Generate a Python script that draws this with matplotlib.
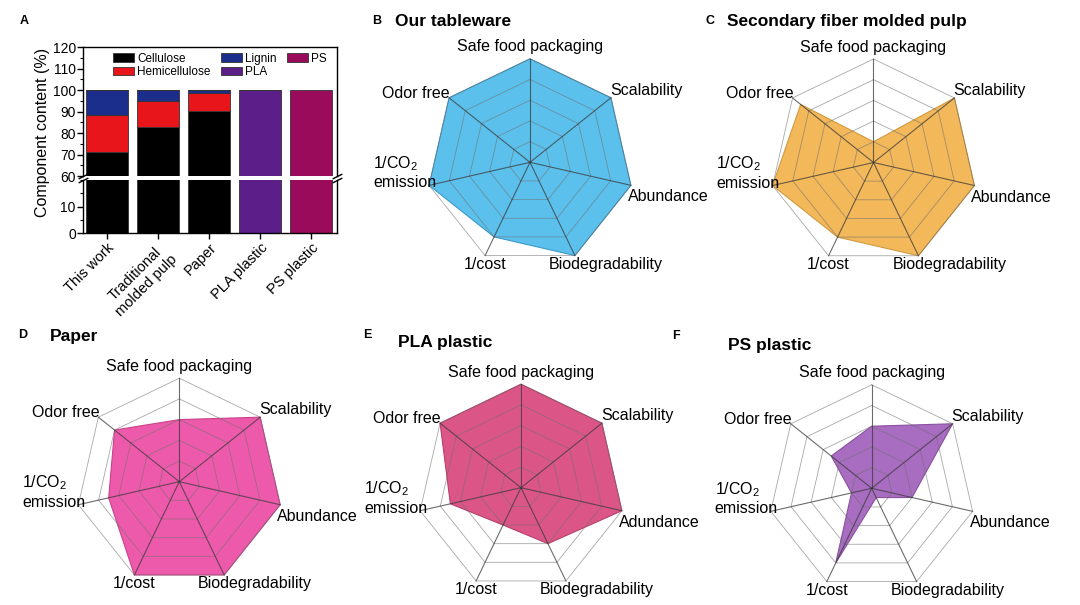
import numpy as np
import matplotlib.pyplot as plt
from matplotlib.ticker import MultipleLocator

plt.rcParams['font.family'] = ['Liberation Sans', 'DejaVu Sans']
plt.rcParams['mathtext.fontset'] = 'custom'
plt.rcParams['mathtext.rm'] = 'Liberation Sans'

W, H = 1080, 605

# ── Panel A: component content (%) ─────────────────────────────
samples = ["This work", "Traditional\nmolded pulp", "Paper", "PLA plastic", "PS plastic"]
cellulose = [71, 83, 90.5, 0, 0]
hemicellulose = [17.5, 12, 8, 0, 0]
lignin = [11.5, 5, 1.5, 0, 0]
pla = [0, 0, 0, 100, 0]
ps = [0, 0, 0, 0, 100]

# ── Radar panels (0-10 scale, clockwise from top) ──────────────
criteria = ["Safe food packaging", "Scalability", "Abundance", "Biodegradability",
            "1/cost", "1/CO$_2$\nemission", "Odor free"]
criteria_pla = ["Safe food packaging", "Scalability", "Adundance", "Biodegradability",
                "1/cost", "1/CO$_2$\nemission", "Odor free"]
tableware = [10, 10, 10, 10, 8, 10, 10]
secondary_pulp = [2, 10, 10, 10, 8, 10, 9]
paper = [6, 10, 10, 10, 10, 7, 8]
pla_plastic = [10, 10, 10, 6, 4, 7, 10]
ps_plastic = [6, 10, 4, 1, 8, 2, 5]
levels = [2, 4, 6, 8, 10]

fig = plt.figure(figsize=(10.8, 6.05), dpi=100)


def px_axes(x0, y0, x1, y1, **kw):
    return fig.add_axes([x0 / W, 1 - y1 / H, (x1 - x0) / W, (y1 - y0) / H], **kw)


# ───────────────────────────────────────────────────────────────
# Panel A (broken y axis)
# ───────────────────────────────────────────────────────────────
axU = px_axes(82.7, 47.3, 336.7, 176)
axL = px_axes(82.7, 180, 336.7, 233.3)
x = np.arange(len(samples))
stack = [(cellulose, 'black', 'Cellulose'),
         (hemicellulose, '#e8161b', 'Hemicellulose'),
         (lignin, '#1c2e8c', 'Lignin'),
         (pla, '#5c1e88', 'PLA'),
         (ps, '#9a0c5b', 'PS')]
for ax in (axU, axL):
    bottom = np.zeros(len(samples))
    for vals, col, lab in stack:
        vals = np.array(vals, dtype=float)
        ax.bar(x, vals, 0.82, bottom=bottom, color=col, edgecolor='#333333',
               linewidth=0.6, label=lab)
        bottom += vals
    ax.set_xlim(-0.48, 4.5)
    for s in ax.spines.values():
        s.set_linewidth(1.0)
    ax.tick_params(axis='y', which='major', direction='out', length=4, width=1, labelsize=10, pad=1)
    ax.tick_params(axis='y', which='minor', direction='out', length=2, width=0.8)
    ax.yaxis.set_minor_locator(MultipleLocator(5))

axU.set_ylim(60, 120)
axU.set_yticks(np.arange(60, 121, 10))
axU.spines['bottom'].set_visible(False)
axU.tick_params(axis='x', bottom=False, labelbottom=False)

axL.set_ylim(0, 20)
axL.set_yticks([0, 10])
axL.spines['top'].set_visible(False)
axL.set_xticks(x)
axL.set_xticklabels(samples, rotation=45, ha='right', va='top', rotation_mode='anchor',
                    multialignment='center', fontsize=10.5)
axL.tick_params(axis='x', direction='out', length=4, width=1, pad=1.5)

d = 0.5
brk = dict(marker=[(-1, -d), (1, d)], markersize=7, linestyle='none', color='k',
           mec='k', mew=1, clip_on=False)
axU.plot([0, 1], [0, 0], transform=axU.transAxes, **brk)
axL.plot([0, 1], [1, 1], transform=axL.transAxes, **brk)

axU.legend(ncol=3, loc='upper center', bbox_to_anchor=(0.54, 1.0), frameon=False,
           fontsize=8.5, handlelength=1.8, handleheight=0.7, handletextpad=0.25,
           columnspacing=0.9, labelspacing=0.15, borderaxespad=0.25, borderpad=0.2)

fig.text(42.5 / W, 1 - 132.5 / H, "Component content (%)", rotation=90,
         ha='center', va='center', fontsize=11.5)

# ───────────────────────────────────────────────────────────────
# Radar panels
# ───────────────────────────────────────────────────────────────
PT = 0.72  # points per pixel at dpi 100
label_spec = [('center', 'baseline', 0, 7.5),
              ('left', 'baseline', -1, 3),
              ('left', 'baseline', -3, -16),
              ('left', 'baseline', -26, -13),
              ('center', 'baseline', 0, -13),
              ('right', 'baseline', 7, -2),
              ('right', 'baseline', 1, 0)]


def radar(cx, cy, values, color, edge, labels, R=103.5):
    ax = px_axes(cx - R, cy - R, cx + R, cy + R, projection='polar')
    ax.set_theta_zero_location('N')
    ax.set_theta_direction(-1)
    ax.set_ylim(0, 10)
    ax.axis('off')
    angles = np.linspace(0, 2 * np.pi, len(values), endpoint=False)
    closed = np.append(angles, angles[0])
    ax.fill(closed, np.append(values, values[0]), facecolor=color, edgecolor=edge,
            linewidth=0.8, zorder=1, clip_on=False)
    for lvl in levels:
        ax.plot(closed, [lvl] * len(closed), color='#6e6e6e', lw=0.6, alpha=0.6,
                zorder=2, clip_on=False)
    for a in angles:
        ax.plot([a, a], [0, 10], color='#3a3a3a', lw=0.8, alpha=0.75, zorder=2, clip_on=False)
    for a, lab, (ha, va, dx, dy) in zip(angles, labels, label_spec):
        ax.annotate(lab, xy=(a, 10), xytext=(dx * PT, dy * PT), textcoords='offset points',
                    ha=ha, va=va, multialignment='left', fontsize=11.5,
                    annotation_clip=False)
    return ax


radar(530, 162.3, tableware, '#5bc1ec', '#3c98c8', criteria)
radar(873.5, 162.5, secondary_pulp, '#f3b859', '#d09a40', criteria)
radar(179.3, 481.7, paper, '#ee5aab', '#c8428a', criteria)
radar(521, 487.7, pla_plastic, '#db5686', '#b83f6a', criteria_pla)
radar(871.7, 488.3, ps_plastic, '#a86cc1', '#8a519f', criteria)

# ───────────────────────────────────────────────────────────────
# Panel letters and titles
# ───────────────────────────────────────────────────────────────
letters = [("A", 20, 24), ("B", 372, 24), ("C", 705, 24), ("D", 18, 338.3),
           ("E", 363, 338.3), ("F", 672, 339.3)]
for t, lx, ly in letters:
    fig.text(lx / W, 1 - ly / H, t, fontsize=9, fontweight='bold', ha='left', va='baseline')

titles = [("Our tableware", 395, 26), ("Secondary fiber molded pulp", 727, 26),
          ("Paper", 50, 340.7), ("PLA plastic", 398, 346.7), ("PS plastic", 728.3, 350)]
for t, tx, ty in titles:
    fig.text(tx / W, 1 - ty / H, t, fontsize=12.5, fontweight='bold', ha='left', va='baseline')

fig.savefig("out.png", dpi=100)
